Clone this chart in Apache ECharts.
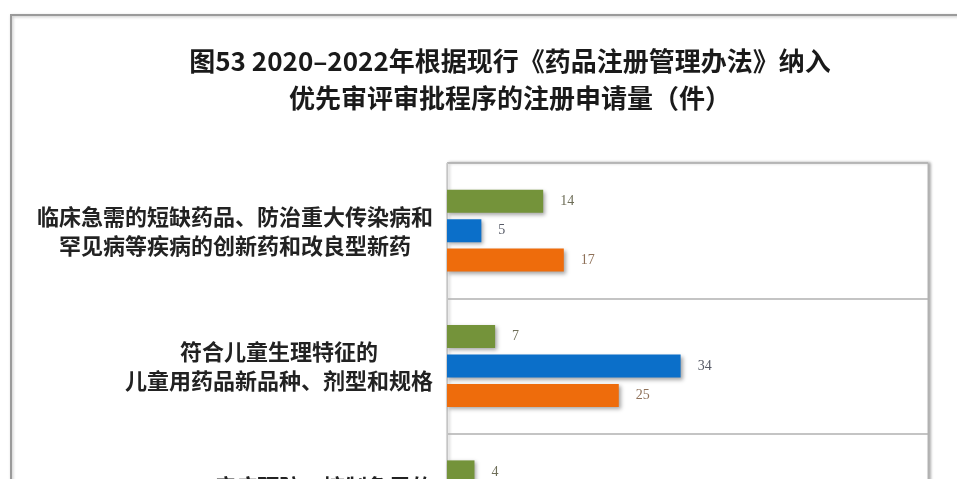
<!DOCTYPE html>
<html>
<head>
<meta charset="utf-8">
<script src="https://cdn.jsdelivr.net/npm/echarts@6/dist/echarts.min.js"></script>
<style>
  html, body { margin: 0; padding: 0; background: #ffffff; overflow: hidden; }
  #chart { width: 957px; height: 620px; }
</style>
</head>
<body>
<div id="chart"></div>
<script>
// Categories of priority review applications (top to bottom)
const categories = [
  '临床急需的短缺药品、防治重大传染病和\n罕见病等疾病的创新药和改良型新药',
  '符合儿童生理特征的\n儿童用药品新品种、剂型和规格',
  '疾病预防、控制急需的\n疫苗和创新疫苗'
];
const seriesNames = ['2020年', '2021年', '2022年'];
// Application counts (件)
const values2020 = [14, 7, 4];
const values2021 = [5, 34, null];
const values2022 = [17, 25, null];

const titleText = '图53 2020–2022年根据现行《药品注册管理办法》纳入\n优先审评审批程序的注册申请量（件）';

const colors = ['#74933a', '#0b6fc9', '#ee6c0c'];
const labelColors = ['#6e6e58', '#565a66', '#8e7058'];

const chart = echarts.init(document.getElementById('chart'));

function makeSeries(i, data) {
  return {
    name: seriesNames[i],
    type: 'bar',
    data: data,
    barWidth: 23,
    barGap: '28%',
    itemStyle: {
      color: colors[i],
      shadowColor: 'rgba(0,0,0,0.35)',
      shadowBlur: 4,
      shadowOffsetX: 2,
      shadowOffsetY: 2
    },
    label: {
      show: true,
      position: 'right',
      distance: 17,
      fontFamily: 'Liberation Serif',
      fontSize: 14,
      color: labelColors[i]
    }
  };
}

chart.setOption({
  backgroundColor: '#ffffff',
  animation: false,
  title: {
    text: titleText,
    left: 505,
    top: 38,
    textAlign: 'center',
    textStyle: {
      fontFamily: '"Noto Sans CJK SC"',
      fontWeight: 'bold',
      fontSize: 26,
      lineHeight: 37,
      color: '#1a1a1a'
    }
  },
  graphic: [{
    type: 'rect',
    z: -10,
    shape: { x: 11, y: 15, width: 1100, height: 800 },
    style: {
      fill: 'none',
      stroke: '#9a9a9a',
      lineWidth: 2,
      shadowColor: 'rgba(0,0,0,0.25)',
      shadowBlur: 3,
      shadowOffsetX: 1,
      shadowOffsetY: 1
    }
  }],
  grid: {
    left: 447,
    top: 163,
    width: 481,
    height: 406,
    show: true,
    backgroundColor: '#ffffff',
    borderColor: '#b8b8b8',
    borderWidth: 1,
    shadowColor: 'rgba(0,0,0,0.35)',
    shadowBlur: 3,
    shadowOffsetX: 2,
    shadowOffsetY: 0
  },
  xAxis: {
    type: 'value',
    min: 0,
    max: 70,
    show: false,
    splitLine: { show: false }
  },
  yAxis: {
    type: 'category',
    inverse: true,
    data: categories,
    axisTick: { show: false },
    axisLine: { show: true, lineStyle: { color: '#c4c4c4', width: 1 } },
    splitLine: { show: true, lineStyle: { color: '#b0b0b0', width: 1.5 } },
    axisLabel: {
      margin: 14,
      formatter: function (v) {
        return v.split('\n').map(function (s) { return '{c|' + s + '}'; }).join('\n');
      },
      rich: {
        c: {
          align: 'center',
          fontFamily: '"Noto Sans CJK SC"',
          fontWeight: 'bold',
          fontSize: 22,
          lineHeight: 29,
          color: '#222222'
        }
      }
    }
  },
  series: [
    makeSeries(0, values2020),
    makeSeries(1, values2021),
    makeSeries(2, values2022)
  ]
});
</script>
</body>
</html>
